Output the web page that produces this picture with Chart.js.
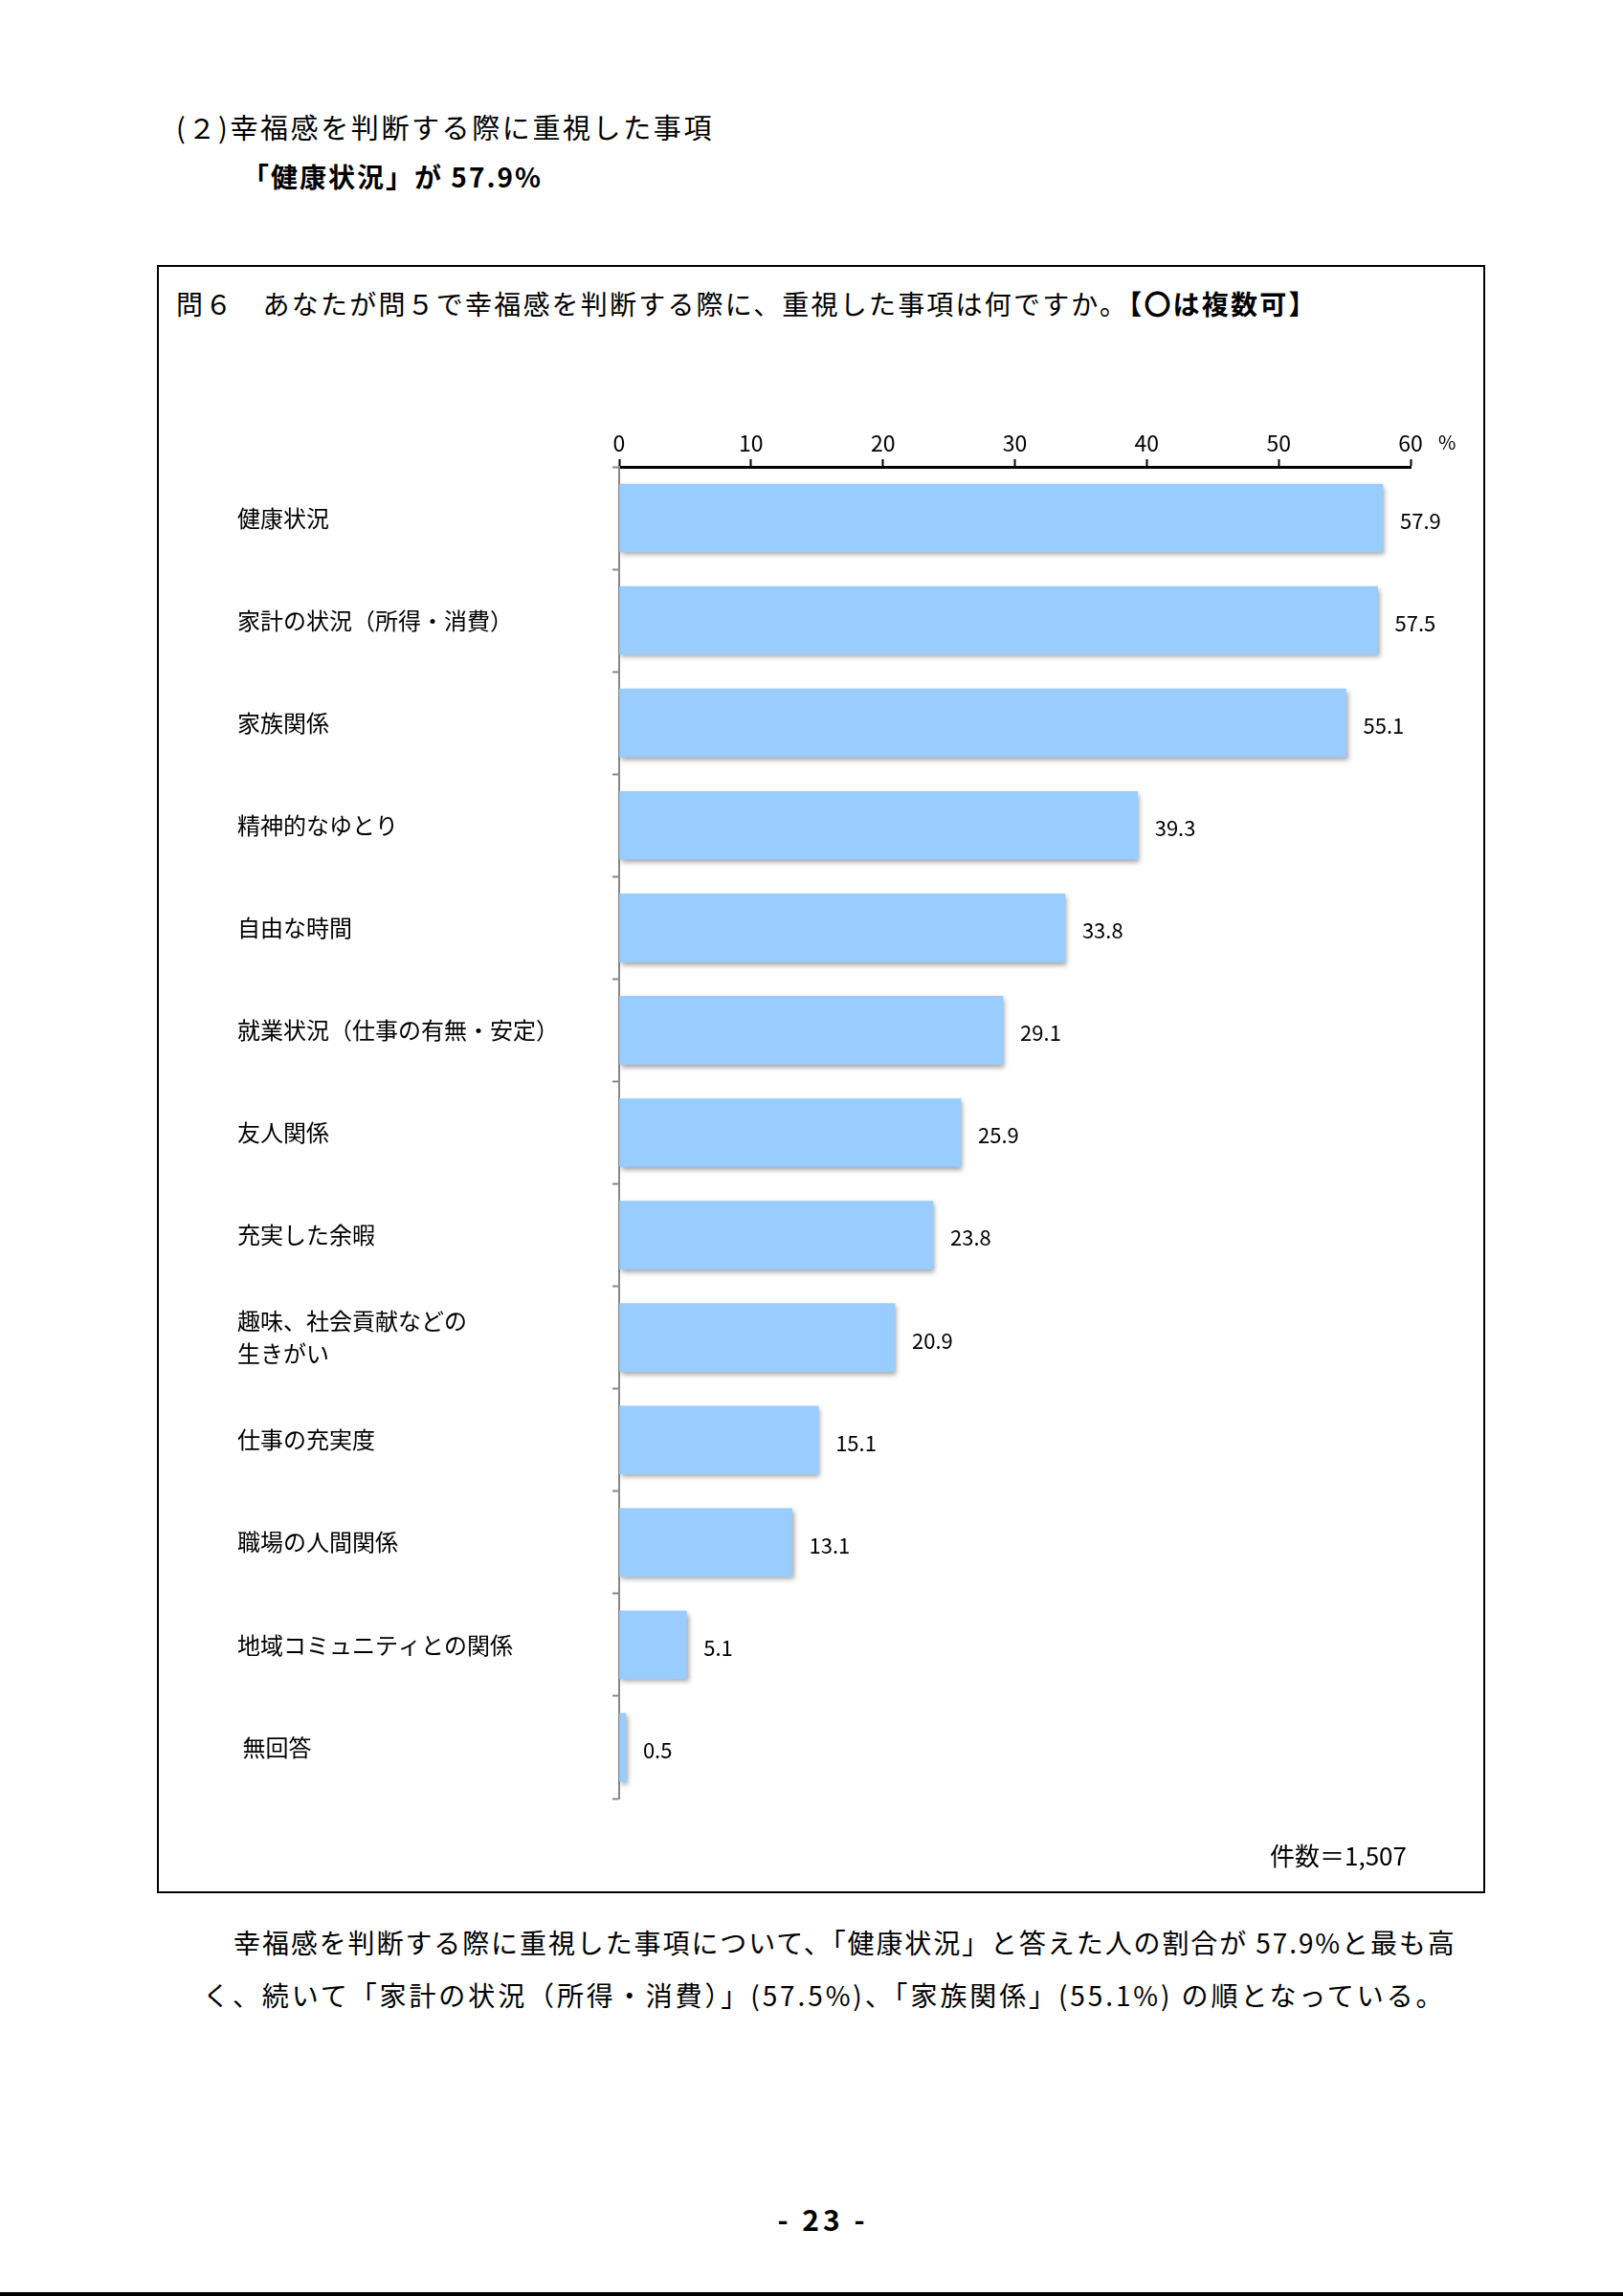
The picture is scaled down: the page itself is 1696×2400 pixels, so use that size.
<!DOCTYPE html>
<html lang="ja">
<head>
<meta charset="utf-8">
<script src="https://cdn.jsdelivr.net/npm/chart.js@4/dist/chart.umd.min.js"></script>
<style>
  html, body { margin: 0; padding: 0; background: #fff; }
  body { width: 1696px; height: 2400px; position: relative; overflow: hidden;
         font-family: "Noto Sans CJK JP", "Noto Sans", sans-serif; color: #000; }
  .t { position: absolute; white-space: nowrap; line-height: 1; }
  #box { position: absolute; left: 164px; top: 277px; width: 1388px; height: 1702px;
         border: 2px solid #000; box-sizing: border-box; }
  #chartWrap { position: absolute; left: 0; top: 400px; width: 1696px; height: 1560px; }
  #bottomLine { position: absolute; left: 0; top: 2396px; width: 1696px; height: 4px; background: #000; }
</style>
</head>
<body>
<div class="t" style="left:184px; top:118px; font-size:29px; letter-spacing:2.6px;">(２)幸福感を判断する際に重視した事項</div>
<div class="t" style="left:253px; top:170px; font-size:28px; font-weight:bold; letter-spacing:2px;">「健康状況」が 57.9%</div>
<div id="box"></div>
<div class="t" style="left:184px; top:303px; font-size:28px; letter-spacing:2.2px;">問６　あなたが問５で幸福感を判断する際に、重視した事項は何ですか。<b>【〇は複数可】</b></div>
<div id="chartWrap"><canvas id="c"></canvas></div>
<div class="t" style="left:1503px; top:452px; font-size:20px;">%</div>
<div class="t" style="left:1327px; top:1926px; font-size:26px;">件数＝1,507</div>
<div class="t" style="left:244px; top:2016px; font-size:28px; letter-spacing:1.9px;">幸福感を判断する際に重視した事項について、「健康状況」と答えた人の割合が 57.9%と最も高</div>
<div class="t" style="left:212px; top:2071px; font-size:28px; letter-spacing:2.9px;">く、続いて「家計の状況（所得・消費）」(57.5%)、「家族関係」(55.1%) の順となっている。</div>
<div class="t" style="left:0; width:1720px; text-align:center; top:2304px; font-size:30px; font-weight:bold; letter-spacing:4px;">- 23 -</div>
<div id="bottomLine"></div>
<script>
const categories = [
  "健康状況",
  "家計の状況（所得・消費）",
  "家族関係",
  "精神的なゆとり",
  "自由な時間",
  "就業状況（仕事の有無・安定）",
  "友人関係",
  "充実した余暇",
  ["趣味、社会貢献などの", "生きがい"],
  "仕事の充実度",
  "職場の人間関係",
  "地域コミュニティとの関係",
  " 無回答"
];
const values = [57.9, 57.5, 55.1, 39.3, 33.8, 29.1, 25.9, 23.8, 20.9, 15.1, 13.1, 5.1, 0.5];
const xTicks = [0, 10, 20, 30, 40, 50, 60];

const FONT = '"Noto Sans CJK JP", "Noto Sans", sans-serif';

const shadowPlugin = {
  id: 'barShadow',
  beforeDatasetDraw(chart) {
    const ctx = chart.ctx;
    ctx.save();
    ctx.shadowColor = 'rgba(0,0,0,0.35)';
    ctx.shadowBlur = 5;
    ctx.shadowOffsetX = 2;
    ctx.shadowOffsetY = 3;
  },
  afterDatasetDraw(chart) {
    chart.ctx.restore();
  }
};

const valueLabels = {
  id: 'valueLabels',
  afterDatasetsDraw(chart) {
    const ctx = chart.ctx;
    const meta = chart.getDatasetMeta(0);
    ctx.save();
    ctx.font = '22px ' + FONT;
    ctx.fillStyle = '#000';
    ctx.textAlign = 'left';
    ctx.textBaseline = 'middle';
    meta.data.forEach((el, i) => {
      ctx.fillText(values[i].toFixed(1), el.x + 18, el.y + 3);
    });
    ctx.restore();
  }
};

new Chart(document.getElementById('c'), {
  type: 'bar',
  data: {
    labels: categories,
    datasets: [{
      data: values,
      backgroundColor: '#99CCFF',
      borderWidth: 0,
      barThickness: 71
    }]
  },
  options: {
    indexAxis: 'y',
    responsive: true,
    maintainAspectRatio: false,
    animation: false,
    devicePixelRatio: 1,
    layout: { padding: { left: 248, right: 222, top: 38, bottom: 80 } },
    plugins: { legend: { display: false }, tooltip: { enabled: false } },
    scales: {
      x: {
        position: 'top',
        min: 0, max: 60,
        afterBuildTicks(scale) { scale.ticks = xTicks.map(v => ({ value: v })); },
        afterFit(scale) { scale.height = 50; },
        border: { display: true, color: '#000', width: 3 },
        grid: { drawOnChartArea: false, drawTicks: true, tickLength: 8, tickColor: '#000', tickWidth: 2 },
        ticks: { color: '#000', padding: 3, font: { family: FONT, size: 23 } }
      },
      y: {
        afterFit(scale) { scale.width = 399; },
        border: { display: true, color: '#888', width: 2 },
        grid: { drawOnChartArea: false, drawTicks: true, tickLength: 7, tickColor: '#888', tickWidth: 2, offset: true },
        ticks: { color: '#000', crossAlign: 'far', padding: 8, font: { family: FONT, size: 24, lineHeight: 1.4 } }
      }
    }
  },
  plugins: [shadowPlugin, valueLabels]
});
</script>
</body>
</html>
